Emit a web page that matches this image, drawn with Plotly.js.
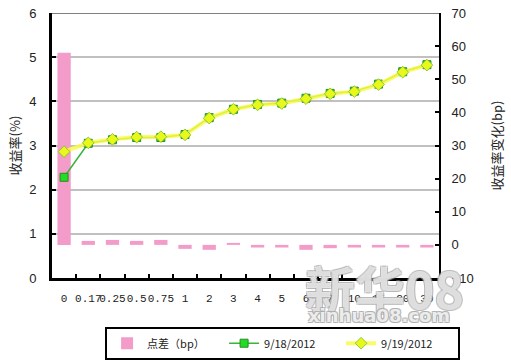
<!DOCTYPE html>
<html>
<head>
<meta charset="utf-8">
<script src="https://cdn.plot.ly/plotly-3.0.1.min.js"></script>
<style>html,body{margin:0;padding:0;background:#fff;}#chart{width:511px;height:361px;}</style>
</head>
<body>
<div id="chart"></div>
<script>
// Tenors (category axis labels)
const tenors = ['0','0.17','0.25','0.5','0.75','1','2','3','4','5','6','7','10','15','20','30'];
// Yield on 9/18/2012 (%)
const yield0918 = [2.28, 3.05, 3.13, 3.18, 3.18, 3.25, 3.63, 3.82, 3.93, 3.96, 4.07, 4.18, 4.23, 4.39, 4.67, 4.83];
// Yield on 9/19/2012 (%)
const yield0919 = [2.86, 3.06, 3.14, 3.19, 3.20, 3.24, 3.62, 3.82, 3.92, 3.95, 4.06, 4.17, 4.22, 4.38, 4.66, 4.82];
// Spread change (bp)
const spreadBp = [58, 1.2, 1.5, 1.2, 1.5, -1.2, -1.5, 0.6, -0.8, -0.8, -1.5, -1.0, -0.8, -0.8, -0.8, -0.8];

const seriesNames = ['点差（bp）', '9/18/2012', '9/19/2012'];

const traces = [
  {
    type: 'bar', x: tenors, y: spreadBp, name: seriesNames[0],
    yaxis: 'y', marker: {color: '#f39cc9', line: {width: 0}},
    hoverinfo: 'x+y'
  },
  {
    type: 'scatter', mode: 'lines+markers', x: tenors, y: yield0918, name: seriesNames[1],
    yaxis: 'y2', line: {color: '#3cb43c', width: 1.5},
    marker: {symbol: 'square', size: 8, color: '#22dd22', line: {color: '#2a8a2a', width: 1}}
  },
  {
    type: 'scatter', mode: 'lines+markers', x: tenors, y: yield0919, name: seriesNames[2],
    yaxis: 'y2', line: {color: 'rgba(250,250,70,0.85)', width: 4},
    marker: {symbol: 'diamond', size: 9, color: '#e8f81a', line: {color: 'rgba(120,190,40,0.8)', width: 1}}
  }
];

const tickFont = {family: 'Liberation Sans, Arial, sans-serif', size: 13, color: '#222'};
const outline = '1px 1px 0 #aaa, -1px -1px 0 #aaa, 1px -1px 0 #aaa, -1px 1px 0 #aaa';

const layout = {
  width: 511, height: 361,
  margin: {l: 52, r: 72, t: 13, b: 83},
  paper_bgcolor: '#ffffff', plot_bgcolor: '#ffffff',
  showlegend: true,
  bargap: 0.45,
  xaxis: {
    type: 'category', range: [-0.5, 15.5], autorange: false, tickangle: 0, tickson: 'boundaries',
    ticks: 'inside', ticklen: 4, tickwidth: 2, tickcolor: '#000',
    showline: true, linecolor: '#000', linewidth: 3,
    showgrid: false, zeroline: false, automargin: false,
    ticklabelstandoff: 8,
    tickfont: {family: 'Liberation Mono, monospace', size: 11, color: '#222'},
    fixedrange: true
  },
  yaxis: {
    side: 'right', range: [-10, 70], dtick: 10, automargin: false,
    ticks: 'inside', ticklen: 4, tickwidth: 2, tickcolor: '#000',
    showline: true, linecolor: '#000', linewidth: 2,
    showgrid: false, zeroline: false,
    tickfont: tickFont, ticklabelstandoff: 8,
    title: {text: '收益率变化(bp)', font: {family: 'Noto Sans CJK SC, sans-serif', size: 13, color: '#222'}, standoff: 20},
    fixedrange: true
  },
  yaxis2: {
    overlaying: 'y', side: 'left', range: [0, 6], dtick: 1, automargin: false,
    ticks: 'inside', ticklen: 4, tickwidth: 2, tickcolor: '#000',
    showline: true, linecolor: '#000', linewidth: 3,
    showgrid: true, gridcolor: '#c0c0c0', gridwidth: 2, zeroline: false,
    tickfont: tickFont, ticklabelstandoff: 10,
    title: {text: '收益率(%)', font: {family: 'Noto Sans CJK SC, sans-serif', size: 13, color: '#222'}, standoff: 6},
    fixedrange: true
  },
  shapes: [
    {type: 'line', xref: 'paper', yref: 'y2', x0: 0, x1: 1, y0: 6, y1: 6, line: {color: '#808080', width: 2}}
  ],
  legend: {
    orientation: 'h', xref: 'container', yref: 'container',
    x: 0.553, xanchor: 'center', y: 0.095, yanchor: 'top',
    bordercolor: '#000', borderwidth: 2, bgcolor: '#fff',
    font: {family: 'Noto Sans CJK SC, sans-serif', size: 11, color: '#222'},
    itemwidth: 30, entrywidth: 72
  },
  annotations: [
    {xref: 'paper', yref: 'paper', x: 0.86, y: -0.035, xanchor: 'center', yanchor: 'middle',
     text: '<b>新华08</b>', showarrow: false,
     font: {family: 'Noto Sans CJK SC, sans-serif', size: 50, color: 'rgba(255,255,255,0.6)', shadow: outline}},
    {xref: 'paper', yref: 'paper', x: 0.845, y: -0.14, xanchor: 'center', yanchor: 'middle',
     text: 'xinhua08.com', showarrow: false,
     font: {family: 'DejaVu Sans, sans-serif', size: 18, weight: 'bold', color: 'rgba(255,255,255,0.8)', shadow: outline}}
  ]
};

Plotly.newPlot('chart', traces, layout, {staticPlot: true, displayModeBar: false});
</script>
</body>
</html>
